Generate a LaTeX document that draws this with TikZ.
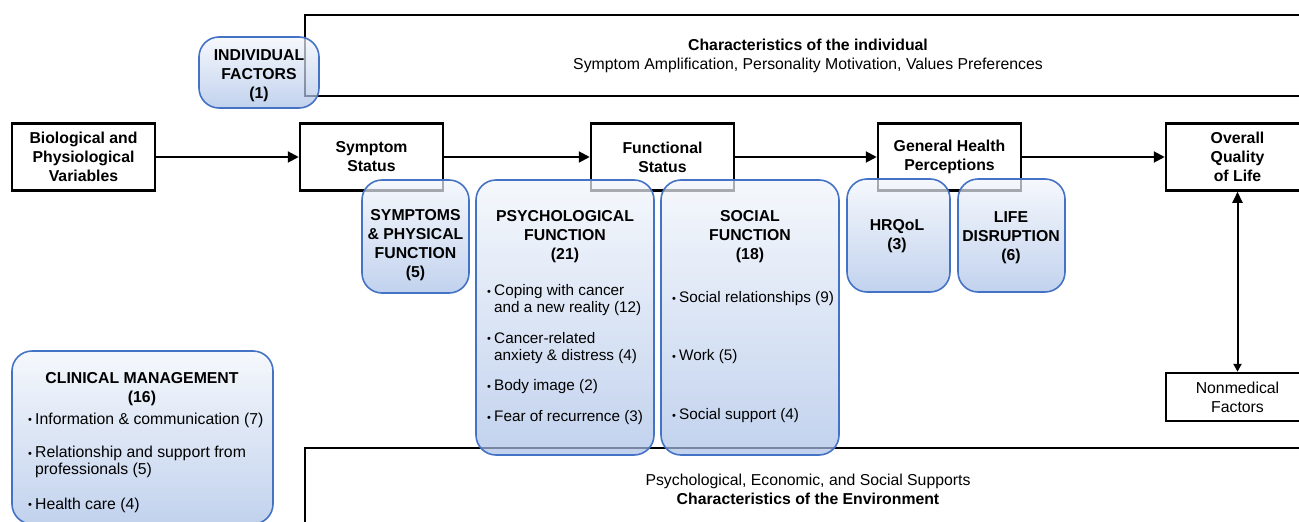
\documentclass[tikz,border=0pt]{standalone}
\usepackage{fontspec}
\setmainfont{Liberation Sans}
\usetikzlibrary{arrows.meta,calc}
\definecolor{boxline}{HTML}{4472C4}
\definecolor{boxtop}{HTML}{F1F5FB}
\definecolor{boxmid}{HTML}{7899D0}
\definecolor{boxbot}{HTML}{A8BFE6}
\newcommand{\titlefont}{\fontsize{15.8}{19}\selectfont\bfseries}
\newcommand{\plainfont}{\fontsize{15.8}{19}\selectfont}
\newcommand{\itemfont}{\fontsize{15.3}{17}\selectfont}
\newcommand{\bul}{\makebox[7pt][l]{\raisebox{0.5pt}{\fontsize{11}{11}\selectfont\textbullet}}}
\tikzstyle{frame}=[draw=black,line width=2.5pt]
\tikzstyle{block}=[rectangle,draw=black,line width=2.5pt,fill=white,minimum width=143pt,minimum height=67pt,inner sep=0pt,align=center,font=\titlefont]
\tikzstyle{smallblock}=[block,minimum height=48pt,font=\plainfont]
\tikzstyle{bluebox}=[rectangle,draw=boxline,line width=1.6pt,rounded corners=20pt,top color=boxtop,middle color=boxmid,bottom color=boxbot,fill opacity=0.7,inner sep=0pt]
\tikzstyle{title}=[align=center,font=\titlefont,inner sep=0pt]
\tikzstyle{item}=[anchor=west,align=left,font=\itemfont,inner sep=0pt]
\tikzstyle{edge}=[draw,line width=2pt,-{Triangle[length=11pt,width=11pt]}]

\begin{document}
\begin{tikzpicture}[x=1pt,y=-1pt]
    \clip (0,0) rectangle (1299,522);
    % Frames of the individual and of the environment
    \draw[frame] (305,15) rectangle (1340,96);
    \draw[frame] (305,448) rectangle (1340,560);
    \node[align=center,inner sep=0pt,font=\plainfont] (indiv) at (808,55.5) {\textbf{Characteristics of the individual}\\Symptom Amplification, Personality Motivation, Values Preferences};
    \node[align=center,inner sep=0pt,font=\plainfont] (envir) at (808,489) {Psychological, Economic, and Social Supports\\\textbf{Characteristics of the Environment}};

    % The main chain
    \foreach \pos/\name/\label in {{(83.5,157)/bio/Biological and\\Physiological\\Variables},
    {(371.5,157)/sympt/Symptom\\Status}, {(662.5,157)/funct/Functional\\Status},
    {(949.5,157)/health/General Health\\Perceptions}, {(1237.5,157)/qol/Overall\\Quality\\of Life}}
        \node[block] (\name) at \pos {\label};
    \node[smallblock] (nonmed) at (1237.5,397) {Nonmedical\\Factors};

    \foreach \source/\dest in {bio/sympt, sympt/funct, funct/health, health/qol}
        \path[edge] (\source) -- (\dest);
    \draw[line width=2pt,{Triangle[length=11pt,width=10pt]}-{Triangle[length=8pt,width=8pt]}] (qol) -- (nonmed);

    % The blue boxes of the themes
    \foreach \pos/\name/\bw/\bh in {{(259,72.5)/indivbox/120/71}, {(415.5,236.5)/symptbox/107/113},
    {(565,317.5)/psychbox/178/275}, {(750,317.5)/socialbox/178/275},
    {(898.5,235.5)/hrqolbox/103/113}, {(1011.5,235.5)/lifebox/107/113},
    {(142.5,437.5)/clinbox/261/173}}
        \node[bluebox,minimum width=\bw pt,minimum height=\bh pt] (\name) at \pos {};

    \foreach \pos/\name/\label in {{(259,76)/indivtitle/INDIVIDUAL\\FACTORS\\(1)},
    {(415.5,245.5)/sympttitle/SYMPTOMS\\\& PHYSICAL\\FUNCTION\\(5)},
    {(565,236.5)/psychtitle/PSYCHOLOGICAL\\FUNCTION\\(21)}, {(750,236.5)/socialtitle/SOCIAL\\FUNCTION\\(18)},
    {(897,236)/hrqoltitle/HRQoL\\(3)}, {(1011,238)/lifetitle/LIFE\\DISRUPTION\\(6)},
    {(142,389)/clintitle/CLINICAL MANAGEMENT\\(16)}}
        \node[title] (\name) at \pos {\label};

    % Items with their counts
    \foreach \pos/\name/\label in {{(487,300.5)/psyA/\bul Coping with cancer\\\hspace*{7pt}and a new reality (12)},
    {(487,348)/psyB/\bul Cancer-related\\\hspace*{7pt}anxiety \& distress (4)},
    {(487,387)/psyC/\bul Body image (2)}, {(487,418)/psyD/\bul Fear of recurrence (3)},
    {(672,299)/socA/\bul Social relationships (9)}, {(672,357)/socB/\bul Work (5)},
    {(672,416)/socC/\bul Social support (4)}}
        \node[item] (\name) at \pos {\label};
    \foreach \pos/\name/\label in {{(28,420)/clinA/\bul Information \& communication (7)},
    {(28,462)/clinB/\bul Relationship and support from\\\hspace*{7pt}professionals (5)},
    {(28,505)/clinC/\bul Health care (4)}}
        \node[item,font=\fontsize{15.8}{17}\selectfont] (\name) at \pos {\label};
\end{tikzpicture}
\end{document}
